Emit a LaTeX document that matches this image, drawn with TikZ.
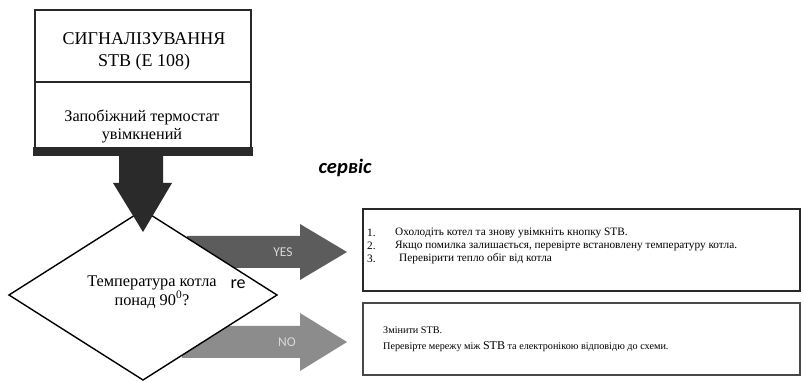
\documentclass[tikz,border=0pt]{standalone}
\usepackage{fontspec}
\setmainfont{Liberation Serif}
\newfontfamily\calib{Carlito}
\usetikzlibrary{calc}
\definecolor{darkc}{RGB}{42,42,42}
\definecolor{yesc}{RGB}{92,92,92}
\definecolor{noc}{RGB}{140,140,140}
\definecolor{borderc}{RGB}{40,40,40}
\definecolor{lbl}{RGB}{215,215,215}
\begin{document}
\begin{tikzpicture}[x=1pt,y=-1pt,
  topbox/.style={draw=borderc, line width=2.2pt, fill=white, minimum width=216pt, inner sep=0pt},
  infobox/.style={draw=borderc, line width=1.8pt, fill=white, minimum width=437pt, inner sep=0pt},
  diam/.style={draw=black, line width=1.4pt, fill=white, line join=miter},
  itemtxt/.style={anchor=west, inner sep=0pt, font=\fontsize{11.3}{14}\selectfont},
  notxt/.style={anchor=west, inner sep=0pt, font=\fontsize{10.2}{14}\selectfont},
  arrowlbl/.style={font=\calib\fontsize{13.5}{13.5}\selectfont, text=lbl, inner sep=0pt}
]
\useasboundingbox (0,0) rectangle (804,382);

% top boxes
\node[topbox, minimum height=72pt] (sig) at (143,46) {};
\node[align=center, font=\fontsize{18}{22}\selectfont, inner sep=0pt] (sigtxt) at (144,51) {СИГНАЛІЗУВАННЯ\\STB (E 108)};
\node[topbox, minimum height=70pt] (fuse) at (143,117) {};
\fill[darkc] (fuse.south west) ++(-1.1,-6) rectangle ($(fuse.south east)+(1.1,3)$);
\node[align=center, font=\fontsize{16.2}{18}\selectfont, inner sep=0pt] (fusetxt) at (142,126) {Запобіжний термостат\\увімкнений};

% YES / NO block arrows (behind the diamond)
\coordinate (yestip) at (347,252);
\coordinate (notip) at (347,342);
\fill[yesc] ($(yestip)+(-160,-16)$) -- ($(yestip)+(-47,-16)$) -- ($(yestip)+(-47,-28)$) -- (yestip)
  -- ($(yestip)+(-47,28)$) -- ($(yestip)+(-47,16)$) -- ($(yestip)+(-160,16)$) -- cycle;
\fill[noc] ($(notip)+(-165,-16)$) -- ($(notip)+(-47,-16)$) -- ($(notip)+(-47,-29)$) -- (notip)
  -- ($(notip)+(-47,29)$) -- ($(notip)+(-47,16)$) -- ($(notip)+(-165,16)$) -- cycle;
\node[arrowlbl] (yes) at (283,252) {YES};
\node[arrowlbl] (no) at (287,342) {NO};

% decision diamond
\coordinate (dt) at (143,210);
\coordinate (dr) at (277,295);
\coordinate (db) at (143,380);
\coordinate (dl) at (9,295);
\draw[diam] (dt) -- (dr) -- (db) -- (dl) -- cycle;
\node[align=center, font=\fontsize{16.3}{19}\selectfont, inner sep=0pt] (q) at (152,292) {Температура котла\\понад 90\textsuperscript{0}?};
\node[font=\calib\fontsize{18}{18}\selectfont, inner sep=0pt] (re) at (238,284) {re};

% dark arrow from top boxes to diamond
\fill[darkc] (119,152) -- (163,152) -- (163,183) -- (172,183) -- (143,232) -- (113,183) -- (119,183) -- cycle;

% service label
\node[font=\calib\bfseries\itshape\fontsize{20.5}{20.5}\selectfont, inner sep=0pt] (serv) at (345,168) {сервіс};

% YES box
\node[infobox, minimum height=82pt] (yesbox) at (581.5,250) {};
\node[itemtxt] (n1) at (367,233) {1.};
\node[itemtxt] (n2) at (367,246) {2.};
\node[itemtxt] (n3) at (367,259) {3.};
\node[itemtxt] (t1) at (395,233) {Охолодіть котел та знову увімкніть кнопку STB.};
\node[itemtxt] (t2) at (395,246) {Якщо помилка залишається, перевірте встановлену температуру котла.};
\node[itemtxt] (t3) at (399,259) {Перевірити тепло обіг від котла};

% NO box
\node[infobox, draw=borderc!85, minimum height=72pt] (nobox) at (581.5,339) {};
\node[notxt] (m1) at (383,330) {Змінити STB.};
\node[notxt] (m2) at (383,347) {Перевірте мережу між {\fontsize{12}{14}\selectfont STB} та електронікою відповідю до схеми.};
\end{tikzpicture}
\end{document}
